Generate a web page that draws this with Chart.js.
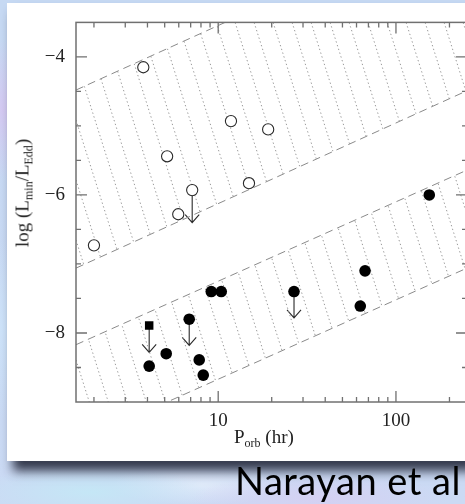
<!DOCTYPE html>
<html>
<head>
<meta charset="utf-8">
<script src="https://cdn.jsdelivr.net/npm/chart.js@4.4.1/dist/chart.umd.min.js"></script>
<style>
  html, body { margin: 0; padding: 0; }
  body {
    width: 465px; height: 504px; overflow: hidden; position: relative;
    background:
      radial-gradient(ellipse 40px 70px at 3px 110px, rgba(214,200,242,.9), transparent),
      radial-gradient(ellipse 40px 90px at 4px 330px, rgba(206,228,250,.9), transparent),
      radial-gradient(ellipse 120px 26px at 90px 492px, rgba(196,232,246,.9), transparent),
      radial-gradient(ellipse 130px 24px at 320px 498px, rgba(214,206,242,.85), transparent),
      radial-gradient(ellipse 90px 20px at 200px 485px, rgba(226,236,250,.9), transparent),
      linear-gradient(#c6d9f3, #cbdaf4);
  }
  #panel {
    position: absolute; left: 7px; top: 3px; width: 490px; height: 458px;
    background: #fff;
    box-shadow: 6px 10px 10px rgba(35, 40, 58, 0.9);
  }
  #wrap { position: absolute; left: 0; top: 0; width: 480px; height: 462px; }
  .axis-title {
    position: absolute; font-family: "Liberation Serif", serif; font-size: 19px;
    color: #222; white-space: nowrap;
  }
  .axis-title sub { font-size: 12px; vertical-align: -4px; }
  #ytitle { left: 24px; top: 193px; transform: translate(-50%, -50%) rotate(-90deg); }
  #xtitle { left: 234px; top: 426px; }
  #credit {
    position: absolute; left: 235px; top: 457px; white-space: nowrap;
    font-family: Lato, "DejaVu Sans", sans-serif; font-size: 38px; letter-spacing: 0.5px; color: #000;
  }
</style>
</head>
<body>
<div id="panel"></div>
<div id="wrap"><canvas id="chart" width="480" height="462"></canvas></div>
<div class="axis-title" id="ytitle">log (L<sub>min</sub>/L<sub>Edd</sub>)</div>
<div class="axis-title" id="xtitle">P<sub>orb</sub> (hr)</div>
<div id="credit">Narayan et al</div>

<script>
// axis ranges
const xMin = 1.585;
const xMax = 251;
const yMin = -9;
const yMax = -3.5;

// tick values
const xMajorTicks = [10, 100];
const xMinorTicks = [2, 3, 4, 5, 6, 7, 8, 9, 20, 30, 40, 50, 60, 70, 80, 90, 200];
const yMajorTicks = [-8, -6, -4];
const yMinorTicks = [-8.5, -7.5, -7, -6.5, -5.5, -5, -4.5];

// open circles (upper group)
const openP = [3.79, 5.16, 7.14, 5.96, 2.0, 11.8, 19.1, 14.9];
const openL = [-4.15, -5.44, -5.93, -6.28, -6.73, -4.93, -5.05, -5.83];

// filled circles (lower group)
const filledP = [154, 9.14, 10.4, 4.09, 5.10, 6.87, 7.82, 8.24, 26.7, 67.0, 63.0];
const filledL = [-6.00, -7.40, -7.40, -8.48, -8.30, -7.80, -8.39, -8.61, -7.40, -7.10, -7.61];

// filled square
const squareP = [4.09];
const squareL = [-7.89];

// upper limits: from value down to arrow tip
const limitP = [7.14, 4.09, 6.87, 26.7];
const limitFrom = [-5.93, -7.89, -7.80, -7.40];
const limitTo = [-6.40, -8.28, -8.18, -7.78];

// hatched bands, edges at the ends of the x range
const bandP = [1.585, 251];
const upperBandTop = [-4.48, -1.91];
const upperBandBottom = [-7.06, -4.49];
const lowerBandTop = [-8.17, -5.64];
const lowerBandBottom = [-9.59, -7.06];

const pts = (xs, ys) => xs.map((x, i) => ({ x: x, y: ys[i] }));

// dotted "\" hatching
function makeHatch(ctx) {
    const S = 19, H = 60;
    const c = document.createElement('canvas');
    c.width = S; c.height = H;
    const g = c.getContext('2d');
    g.strokeStyle = '#9a9a9a';
    g.lineWidth = 1;
    const per = Math.hypot(S, H) / 16;
    g.setLineDash([per * 0.35, per * 0.65]);
    for (let k = -1; k <= 1; k++) {
        g.beginPath();
        g.moveTo(k * S - S, -H);
        g.lineTo(k * S + 2 * S, 2 * H);
        g.stroke();
    }
    return ctx.createPattern(c, 'repeat');
}

const canvas = document.getElementById('chart');
const ctx = canvas.getContext('2d');
const hatch = makeHatch(ctx);

const bandLine = (label, ys, fill) => ({
    type: 'line',
    label: label,
    data: pts(bandP, ys),
    borderColor: '#8a8a8a',
    borderWidth: 1,
    borderDash: [8, 5],
    pointRadius: 0,
    fill: fill,
    backgroundColor: hatch,
    order: 2
});

// frame with inward ticks on all four sides
const framePlugin = {
    id: 'frame',
    afterDatasetsDraw(chart) {
        const { ctx, chartArea: a, scales: { x, y } } = chart;
        ctx.save();
        ctx.strokeStyle = '#707070';
        ctx.lineWidth = 1.5;
        ctx.strokeRect(a.left, a.top, a.right - a.left, a.bottom - a.top);
        ctx.lineWidth = 1.3;
        ctx.beginPath();
        const xt = (v, len) => {
            const px = x.getPixelForValue(v);
            ctx.moveTo(px, a.bottom); ctx.lineTo(px, a.bottom - len);
            ctx.moveTo(px, a.top); ctx.lineTo(px, a.top + len);
        };
        const yt = (v, len) => {
            const py = y.getPixelForValue(v);
            ctx.moveTo(a.left, py); ctx.lineTo(a.left + len, py);
            ctx.moveTo(a.right, py); ctx.lineTo(a.right - len, py);
        };
        xMajorTicks.forEach(v => xt(v, 11));
        xMinorTicks.forEach(v => xt(v, 5));
        yMajorTicks.forEach(v => yt(v, 11));
        yMinorTicks.forEach(v => yt(v, 5));
        ctx.stroke();
        ctx.restore();
    }
};

// upper-limit arrows
const arrowPlugin = {
    id: 'arrows',
    beforeDatasetsDraw(chart) {
        const { ctx, scales: { x, y } } = chart;
        ctx.save();
        ctx.strokeStyle = '#2a2a2a';
        ctx.lineWidth = 1.1;
        limitP.forEach((p, i) => {
            const px = x.getPixelForValue(p);
            const y0 = y.getPixelForValue(limitFrom[i]);
            const y1 = y.getPixelForValue(limitTo[i]);
            ctx.beginPath();
            ctx.moveTo(px, y0); ctx.lineTo(px, y1);
            ctx.moveTo(px - 7, y1 - 8); ctx.lineTo(px, y1); ctx.lineTo(px + 7, y1 - 8);
            ctx.stroke();
        });
        ctx.restore();
    }
};

new Chart(canvas, {
    type: 'scatter',
    data: {
        datasets: [
            {
                label: 'open', data: pts(openP, openL), pointStyle: 'circle', pointRadius: 5.6,
                backgroundColor: '#fff', borderColor: '#2a2a2a', borderWidth: 1.1, order: 0
            },
            {
                label: 'filled', data: pts(filledP, filledL), pointStyle: 'circle', pointRadius: 5.8,
                backgroundColor: '#000', borderColor: '#000', borderWidth: 0, order: 0
            },
            {
                label: 'square', data: pts(squareP, squareL), pointStyle: 'rect', pointRadius: 6,
                backgroundColor: '#000', borderColor: '#000', borderWidth: 0, order: 0
            },
            bandLine('upper band top', upperBandTop, '+1'),
            bandLine('upper band bottom', upperBandBottom, false),
            bandLine('lower band top', lowerBandTop, '+1'),
            bandLine('lower band bottom', lowerBandBottom, false)
        ]
    },
    options: {
        responsive: false,
        animation: false,
        events: [],
        layout: { padding: { top: 11, right: 13, left: 0, bottom: 0 } },
        plugins: { legend: { display: false }, tooltip: { enabled: false } },
        scales: {
            x: {
                type: 'logarithmic', min: xMin, max: xMax,
                grid: { display: false, drawTicks: false },
                border: { display: false },
                afterBuildTicks: s => { s.ticks = xMajorTicks.map(v => ({ value: v })); },
                afterFit: s => { s.height = 60; },
                ticks: {
                    color: '#222', padding: 8, maxRotation: 0, autoSkip: false,
                    font: { family: "'Liberation Serif', serif", size: 19 },
                    callback: v => String(v)
                }
            },
            y: {
                type: 'linear', min: yMin, max: yMax,
                grid: { display: false, drawTicks: false },
                border: { display: false },
                afterBuildTicks: s => { s.ticks = yMajorTicks.map(v => ({ value: v })); },
                afterFit: s => { s.width = 76; },
                ticks: {
                    color: '#222', padding: 11,
                    font: { family: "'Liberation Serif', serif", size: 19 },
                    callback: v => '\u2212' + Math.abs(v)
                }
            }
        }
    },
    plugins: [arrowPlugin, framePlugin]
});
</script>
</body>
</html>
